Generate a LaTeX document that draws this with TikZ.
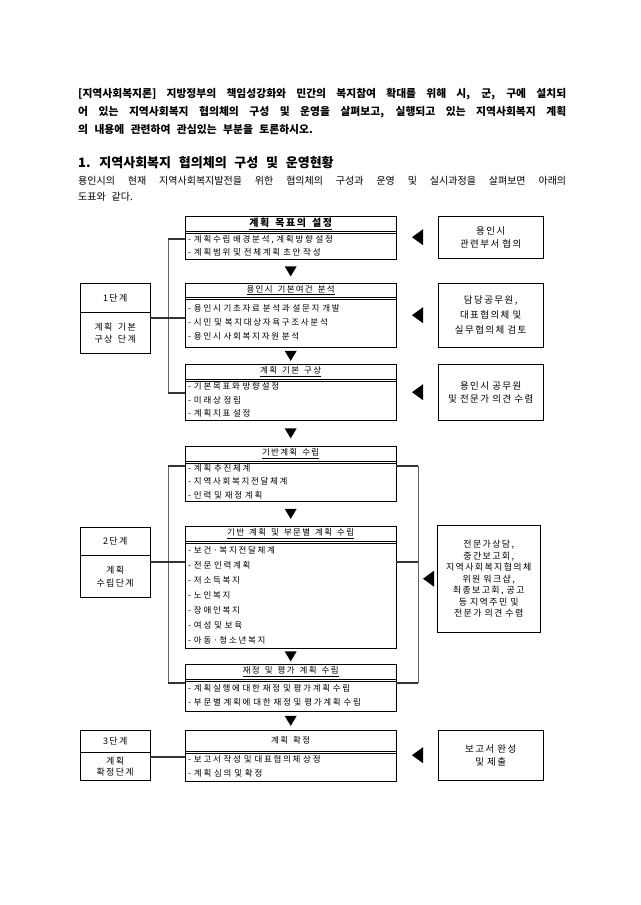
\documentclass[tikz,border=0pt]{standalone}
\usepackage{fontspec}
\setmainfont{Noto Sans CJK KR}
\newfontfamily\para{Noto Sans CJK KR}[WordSpace=2.6]
\newfontfamily\dgm{Noto Sans CJK KR}[LetterSpace=15, WordSpace=1.6]
\newfontfamily\itm{Noto Sans CJK KR}[LetterSpace=20, WordSpace=2.5]
\usetikzlibrary{arrows.meta,positioning,calc}

\begin{document}
\begin{tikzpicture}[x=1pt, y=-1pt,
    ttl/.style={draw, anchor=north west, minimum width=211pt, inner sep=0pt, font=\dgm\fontsize{8.5}{10}\selectfont},
    bdy/.style={draw, anchor=north west, text width=205pt, inner xsep=3pt, inner ysep=0pt, align=left},
    note/.style={draw, anchor=north west, text width=105pt, inner sep=0pt, align=center, font=\dgm\fontsize{9.5}{13.5}\selectfont},
    stg/.style={draw, anchor=north west, minimum width=70pt, inner sep=0pt, align=center, font=\dgm\fontsize{9}{12.5}\selectfont},
    thk/.style={line width=2.5pt, black!80},
    thn/.style={line width=0.6pt, black!60}]
    \useasboundingbox (0,0) rectangle (640,905);

    % question and heading
    \node (q) [anchor=north west, text width=488pt, inner sep=0pt, align=justify, font=\para\fontsize{10.8}{18}\selectfont\bfseries] at (78,88)
        {[지역사회복지론] 지방정부의 책임성강화와 민간의 복지참여 확대를 위해 시, 군, 구에 설치되\linebreak
         어 있는 지역사회복지 협의체의 구성 및 운영을 살펴보고, 실행되고 있는 지역사회복지 계획\linebreak
         의 내용에 관련하여 관심있는 부분을 토론하시오.};
    \node (h) [anchor=west, inner sep=0pt, font=\para\fontsize{13}{15}\selectfont\bfseries] at (78,163)
        {1. 지역사회복지 협의체의 구성 및 운영현황};
    \node (i) [anchor=north west, text width=488pt, inner sep=0pt, align=justify, font=\para\fontsize{10}{16}\selectfont] at (78,176)
        {용인시의 현재 지역사회복지발전을 위한 협의체의 구성과 운영 및 실시과정을 살펴보면 아래의\linebreak 도표와 같다.};

    % process boxes
    \node (t1) [ttl, minimum height=15pt, font=\dgm\fontsize{10}{10}\selectfont\bfseries] at (185,216) {\underline{계획 목표의 설정}};
    \node (b1) [bdy, minimum height=28pt, font=\itm\fontsize{8.5}{13}\selectfont] at (t1.south west)
        {- 계획수립 배경분석, 계획방향 설정\\- 계획범위 및 전체계획 초안 작성};
    \node (t2) [ttl, minimum height=14pt] at (185,283) {\underline{용인시 기본여건 분석}};
    \node (b2) [bdy, minimum height=50pt, font=\itm\fontsize{8.5}{14}\selectfont] at (t2.south west)
        {- 용인시 기초자료 분석과 설문지 개발\\- 시민 및 복지대상자욕구조사분석\\- 용인시 사회복지자원 분석};
    \node (t3) [ttl, minimum height=15pt] at (185,364) {\underline{계획 기본 구상}};
    \node (b3) [bdy, minimum height=41pt, font=\itm\fontsize{8.5}{13.5}\selectfont] at (t3.south west)
        {- 기본목표와 방향설정\\- 미래상 정립\\- 계획지표 설정};
    \node (t4) [ttl, minimum height=15pt] at (185,446) {\underline{기반계획 수립}};
    \node (b4) [bdy, minimum height=40pt, font=\itm\fontsize{8.5}{13.5}\selectfont] at (t4.south west)
        {- 계획 추진체계\\- 지역사회복지전달체계\\- 인력 및 재정 계획};
    \node (t5) [ttl, minimum height=15pt] at (185,526) {\underline{기반 계획 및 부문별 계획 수립}};
    \node (b5) [bdy, minimum height=107pt, font=\itm\fontsize{8.5}{15}\selectfont] at (t5.south west)
        {- 보건·복지전달체계\\- 전문 인력계획\\- 저소득복지\\- 노인복지\\- 장애인복지\\- 여성 및 보육\\- 아동·청소년복지};
    \node (t6) [ttl, minimum height=15pt] at (185,664) {\underline{재정 및 평가 계획 수립}};
    \node (b6) [bdy, minimum height=32pt, font=\itm\fontsize{8.5}{14}\selectfont] at (t6.south west)
        {- 계획실행에 대한 재정 및 평가계획 수립\\- 부문별 계획에 대한 재정 및 평가계획 수립};
    \node (t7) [ttl, minimum height=21pt] at (185,730) {계획 확정};
    \node (b7) [bdy, minimum height=30pt, font=\itm\fontsize{8.5}{14}\selectfont] at (t7.south west)
        {- 보고서 작성 및 대표협의체 상정\\- 계획 심의 및 확정};

    % double rule under the titles
    \foreach \t in {t1,t2,t3,t4,t5,t6,t7}
        \draw ([yshift=-2pt]\t.south west) -- ([yshift=-2pt]\t.south east);

    % notes on the right
    \node (n1) [note, minimum height=42pt] at (438,216) {용인시\\관련부서 협의};
    \node (n2) [note, minimum height=64pt, font=\dgm\fontsize{9.5}{15}\selectfont] at (438,283) {담당공무원,\\대표협의체 및\\실무협의체 검토};
    \node (n3) [note, minimum height=56pt] at (438,364) {용인시 공무원\\및 전문가 의견 수렴};
    \node (n5) [note, minimum height=107pt, text width=103pt, font=\dgm\fontsize{9}{11.5}\selectfont] at (437,525)
        {전문가상담,\\중간보고회,\\지역사회복지협의체\\위원 워크샵,\\최종보고회, 공고\\등 지역주민 및\\전문가 의견 수렴};
    \node (n7) [note, minimum height=50pt] at (438,730) {보고서 완성\\및 제출};

    % stages on the left
    \node (s1a) [stg, minimum height=29pt] at (80,283) {1단계};
    \node (s1b) [stg, minimum height=41pt] at (s1a.south west) {계획 기본\\구상 단계};
    \node (s2a) [stg, minimum height=28pt] at (80,527) {2단계};
    \node (s2b) [stg, minimum height=42pt] at (s2a.south west) {계획\\수립단계};
    \node (s3a) [stg, minimum height=22pt] at (80,730) {3단계};
    \node (s3b) [stg, minimum height=28pt, font=\dgm\fontsize{9}{11.5}\selectfont] at (s3a.south west) {계획\\확정단계};

    % connectors
    \coordinate (p1) at (168,239);
    \coordinate (p2) at (168,393);
    \coordinate (p3) at (168,318);
    \draw[thn] (p1) -- (p2);
    \draw[thk] (p1) -- (p1 -| b1.west);
    \draw[thk] (p2) -- (p2 -| b3.west);
    \draw[thk] (p3 -| s1b.east) -- (p3 -| b2.west);

    \coordinate (r1) at (168,466);
    \coordinate (r2) at (168,562);
    \coordinate (r3) at (168,683);
    \coordinate (u1) at (418,466);
    \coordinate (u3) at (418,683);
    \draw[thn] (r1) -- (r3);
    \draw[thn] (u1) -- (u3);
    \draw[thk] (r1) -- (r1 -| b4.west);
    \draw[thk] (r3) -- (r3 -| b6.west);
    \draw[thk] (r2 -| s2b.east) -- (r2 -| b5.west);
    \draw[thk] (u1 -| b4.east) -- (u1);
    \draw[thk] (r2 -| b5.east) -- (r2 -| u1);
    \draw[thk] (u3 -| b6.east) -- (u3);

    \coordinate (w1) at (168,757);
    \draw[thk] (w1 -| s3b.east) -- (w1 -| b7.west);

    % arrowheads
    \foreach \a/\b in {b1/t2,b2/t3,b3/t4,b4/t5,b5/t6,b6/t7}
        \fill ($(\a.south)!.5!(\b.north)$) ++(-6,-5) -- ++(12,0) -- ++(-6,10) -- cycle;
    \foreach \n/\d in {n1/26,n2/26,n3/26,n5/14,n7/26}
        \fill ([xshift=-\d pt]\n.west) -- ++(11,-8) -- ++(0,16) -- cycle;
\end{tikzpicture}
\end{document}
